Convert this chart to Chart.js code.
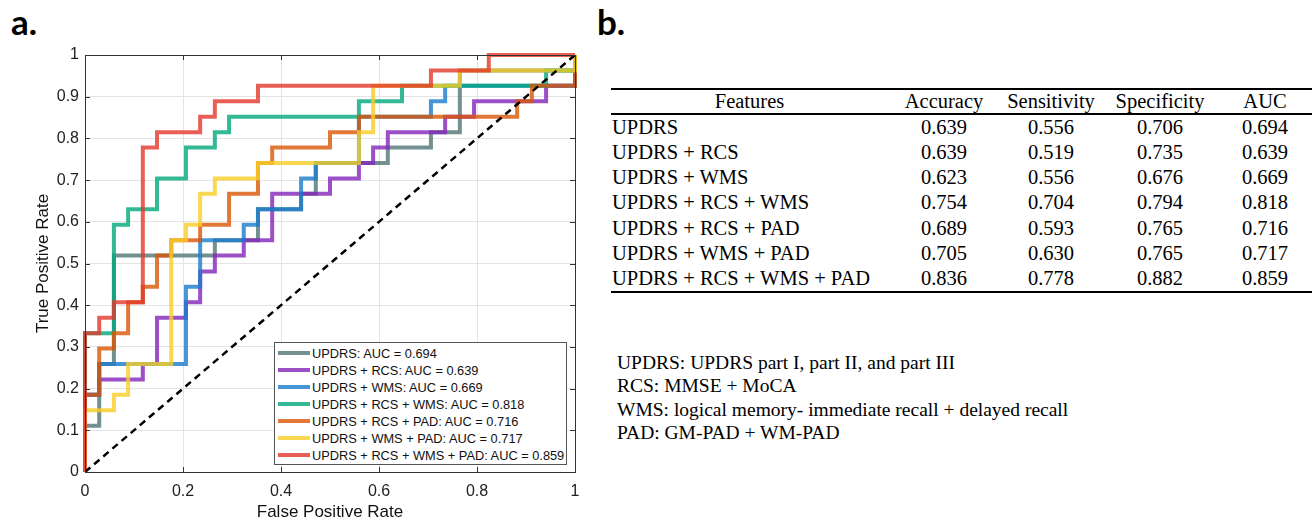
<!DOCTYPE html>
<html>
<head>
<meta charset="utf-8">
<script src="https://cdn.jsdelivr.net/npm/chart.js@4.4.1/dist/chart.umd.min.js"></script>
<style>
  body { margin:0; width:1312px; height:518px; background:#fff; overflow:hidden; position:relative; font-family:"Liberation Sans", Arial, sans-serif; }
  .panel-label { position:absolute; top:4px; font-family:Lato, "Open Sans", sans-serif; font-weight:700; font-size:35px; line-height:35px; color:#000; }
  #plot { position:absolute; left:0; top:0; width:600px; height:518px; }
  #legend { position:absolute; left:274px; top:342px; width:293px; height:123px; border:1px solid #555; background:#fff; box-sizing:border-box; padding-top:1.5px; }
  .lg-row { height:17px; display:flex; align-items:center; font-size:12.8px; color:#111; white-space:nowrap; }
  .lg-row .sw { width:32px; height:4px; margin:0 2px 0 3px; flex:none; }
  table { position:absolute; left:611px; top:88px; border-collapse:collapse; font-family:"Liberation Serif", "Times New Roman", serif; font-size:20.5px; color:#000; }
  table td, table th { padding:0; font-weight:normal; text-align:center; white-space:nowrap; }
  table thead tr { height:24px; border-top:2px solid #000; border-bottom:2px solid #000; }
  table tbody tr { height:25.4px; }
  table tbody tr:last-child { border-bottom:2px solid #000; }
  table td.feat { text-align:left; padding-left:1px; }
  #notes { position:absolute; left:617px; top:351px; font-family:"Liberation Serif", "Times New Roman", serif; font-size:19.5px; line-height:23.3px; color:#000; white-space:nowrap; }
</style>
</head>
<body>
<div class="panel-label" style="left:11px">a.</div>
<div class="panel-label" style="left:597px">b.</div>
<div id="plot"><canvas id="roc"></canvas></div>
<div id="legend"></div>

<table id="metrics">
  <colgroup><col style="width:277px"><col style="width:112px"><col style="width:102px"><col style="width:116px"><col style="width:94px"></colgroup>
  <thead><tr><th>Features</th><th>Accuracy</th><th>Sensitivity</th><th>Specificity</th><th>AUC</th></tr></thead>
  <tbody></tbody>
</table>

<div id="notes">
  UPDRS: UPDRS part I, part II, and part III<br>
  RCS: MMSE + MoCA<br>
  WMS: logical memory- immediate recall + delayed recall<br>
  PAD: GM-PAD + WM-PAD
</div>

<script>
// ROC staircase points: each point is the end of a horizontal run (FPR, TPR)
const fprGray = [0, .029, .059, .265, .353, .441, .471, .618, .706, .765, 1, 1];
const tprGray = [0, .111, .259, .519, .556, .630, .667, .741, .778, .815, .963, 1];

const fprPurple = [0, .029, .118, .147, .206, .235, .265, .324, .382, .5, .559, .588, .618, .735, .794, .941, 1, 1];
const tprPurple = [0, .185, .222, .259, .370, .407, .481, .519, .556, .667, .704, .741, .778, .815, .852, .889, .926, 1];

const fprBlue = [0, .029, .206, .235, .324, .353, .441, .471, .559, .706, .735, 1, 1];
const tprBlue = [0, .185, .259, .444, .556, .593, .630, .704, .741, .852, .889, .926, 1];

const fprTeal = [0, .059, .088, .147, .206, .265, .294, .559, .647, .941, 1, 1];
const tprTeal = [0, .333, .593, .630, .704, .778, .815, .852, .889, .926, .963, 1];

const fprOrange = [0, .029, .059, .088, .118, .147, .176, .235, .294, .353, .382, .5, .559, .882, .912, 1, 1];
const tprOrange = [0, .185, .296, .333, .407, .444, .519, .556, .593, .667, .741, .778, .815, .852, .889, .926, 1];

const fprYellow = [0, .059, .088, .176, .206, .235, .265, .353, .559, .588, .765, 1, 1];
const tprYellow = [0, .148, .185, .259, .556, .593, .667, .704, .741, .815, .926, .963, 1];

const fprRed = [0, .029, .059, .118, .147, .235, .265, .353, .706, .824, 1];
const tprRed = [0, .333, .370, .407, .778, .815, .852, .889, .926, .963, 1];

const seriesNames = ["UPDRS", "UPDRS + RCS", "UPDRS + WMS", "UPDRS + RCS + WMS", "UPDRS + RCS + PAD", "UPDRS + WMS + PAD", "UPDRS + RCS + WMS + PAD"];
const aucValues = ["0.694", "0.639", "0.669", "0.818", "0.716", "0.717", "0.859"];
const colors = ["rgba(80,118,118,0.8)", "rgba(130,36,186,0.8)", "rgba(24,124,205,0.8)", "rgba(0,167,124,0.8)",
                "rgba(217,86,5,0.8)", "rgba(249,205,36,0.8)", "rgba(226,55,42,0.8)"];

// table b.
const accuracy = ["0.639", "0.639", "0.623", "0.754", "0.689", "0.705", "0.836"];
const sensitivity = ["0.556", "0.519", "0.556", "0.704", "0.593", "0.630", "0.778"];
const specificity = ["0.706", "0.735", "0.676", "0.794", "0.765", "0.765", "0.882"];

const fprs = [fprGray, fprPurple, fprBlue, fprTeal, fprOrange, fprYellow, fprRed];
const tprs = [tprGray, tprPurple, tprBlue, tprTeal, tprOrange, tprYellow, tprRed];

const pts = (xs, ys) => xs.map((x, i) => ({ x, y: ys[i] }));

const datasets = seriesNames.map((name, i) => ({
  label: name + ": AUC = " + aucValues[i],
  data: pts(fprs[i], tprs[i]),
  borderColor: colors[i],
  borderWidth: 4,
  stepped: "after",
  pointRadius: 0,
  fill: false,
  clip: false,
  order: 10 - i
}));
datasets.push({
  label: "chance",
  data: [{ x: 0, y: 0 }, { x: 1, y: 1 }],
  borderColor: "#000",
  borderWidth: 2.5,
  borderDash: [7, 5],
  pointRadius: 0,
  order: 0
});

// axes box with inward ticks, like the original figure
const boxPlugin = {
  id: "box",
  afterDatasetsDraw(chart) {
    const { ctx, chartArea: a, scales } = chart;
    ctx.save();
    ctx.strokeStyle = "#333";
    ctx.lineWidth = 1;
    ctx.beginPath();
    scales.x.ticks.forEach(t => {
      const px = Math.round(scales.x.getPixelForValue(t.value)) + 0.5;
      ctx.moveTo(px, a.bottom); ctx.lineTo(px, a.bottom - 5);
      ctx.moveTo(px, a.top); ctx.lineTo(px, a.top + 5);
    });
    scales.y.ticks.forEach(t => {
      const py = Math.round(scales.y.getPixelForValue(t.value)) + 0.5;
      ctx.moveTo(a.left, py); ctx.lineTo(a.left + 5, py);
      ctx.moveTo(a.right, py); ctx.lineTo(a.right - 5, py);
    });
    ctx.stroke();
    ctx.strokeRect(Math.round(a.left) + 0.5, Math.round(a.top) + 0.5, Math.round(a.right - a.left), Math.round(a.bottom - a.top));
    ctx.restore();
  }
};

const fmt = v => String(Number(v.toFixed(1)));

new Chart(document.getElementById("roc"), {
  type: "line",
  data: { datasets },
  options: {
    responsive: true,
    maintainAspectRatio: false,
    animation: false,
    events: [],
    layout: { padding: { left: 35, top: 55, right: 25, bottom: 0 } },
    plugins: { legend: { display: false }, tooltip: { enabled: false } },
    scales: {
      x: {
        type: "linear", min: 0, max: 1,
        afterFit: s => { s.height = 46; },
        ticks: { stepSize: 0.2, padding: 10, color: "#222", font: { family: "Liberation Sans", size: 16 }, callback: fmt, maxRotation: 0 },
        grid: { color: "#e4e4e4", drawTicks: false },
        border: { display: false },
        title: { display: true, text: "False Positive Rate", color: "#111", padding: { top: 0, bottom: -3 }, font: { family: "Liberation Sans", size: 17, lineHeight: 1 } }
      },
      y: {
        type: "linear", min: 0, max: 1,
        afterFit: s => { s.width = 50; },
        ticks: { stepSize: 0.1, padding: 6, color: "#222", font: { family: "Liberation Sans", size: 16 }, callback: fmt },
        grid: { color: "#e4e4e4", drawTicks: false },
        border: { display: false },
        title: { display: true, text: "True Positive Rate", color: "#111", padding: 0, font: { family: "Liberation Sans", size: 17, lineHeight: 1 } }
      }
    }
  },
  plugins: [boxPlugin]
});

// legend inside the plot, built from the datasets
const legend = document.getElementById("legend");
datasets.slice(0, seriesNames.length).forEach(d => {
  const row = document.createElement("div");
  row.className = "lg-row";
  row.innerHTML = `<span class="sw" style="background:${d.borderColor}"></span><span>${d.label}</span>`;
  legend.appendChild(row);
});

// table rows
document.querySelector("#metrics tbody").innerHTML = seriesNames.map((n, i) =>
  `<tr><td class="feat">${n}</td><td>${accuracy[i]}</td><td>${sensitivity[i]}</td><td>${specificity[i]}</td><td>${aucValues[i]}</td></tr>`
).join("");
</script>
</body>
</html>
